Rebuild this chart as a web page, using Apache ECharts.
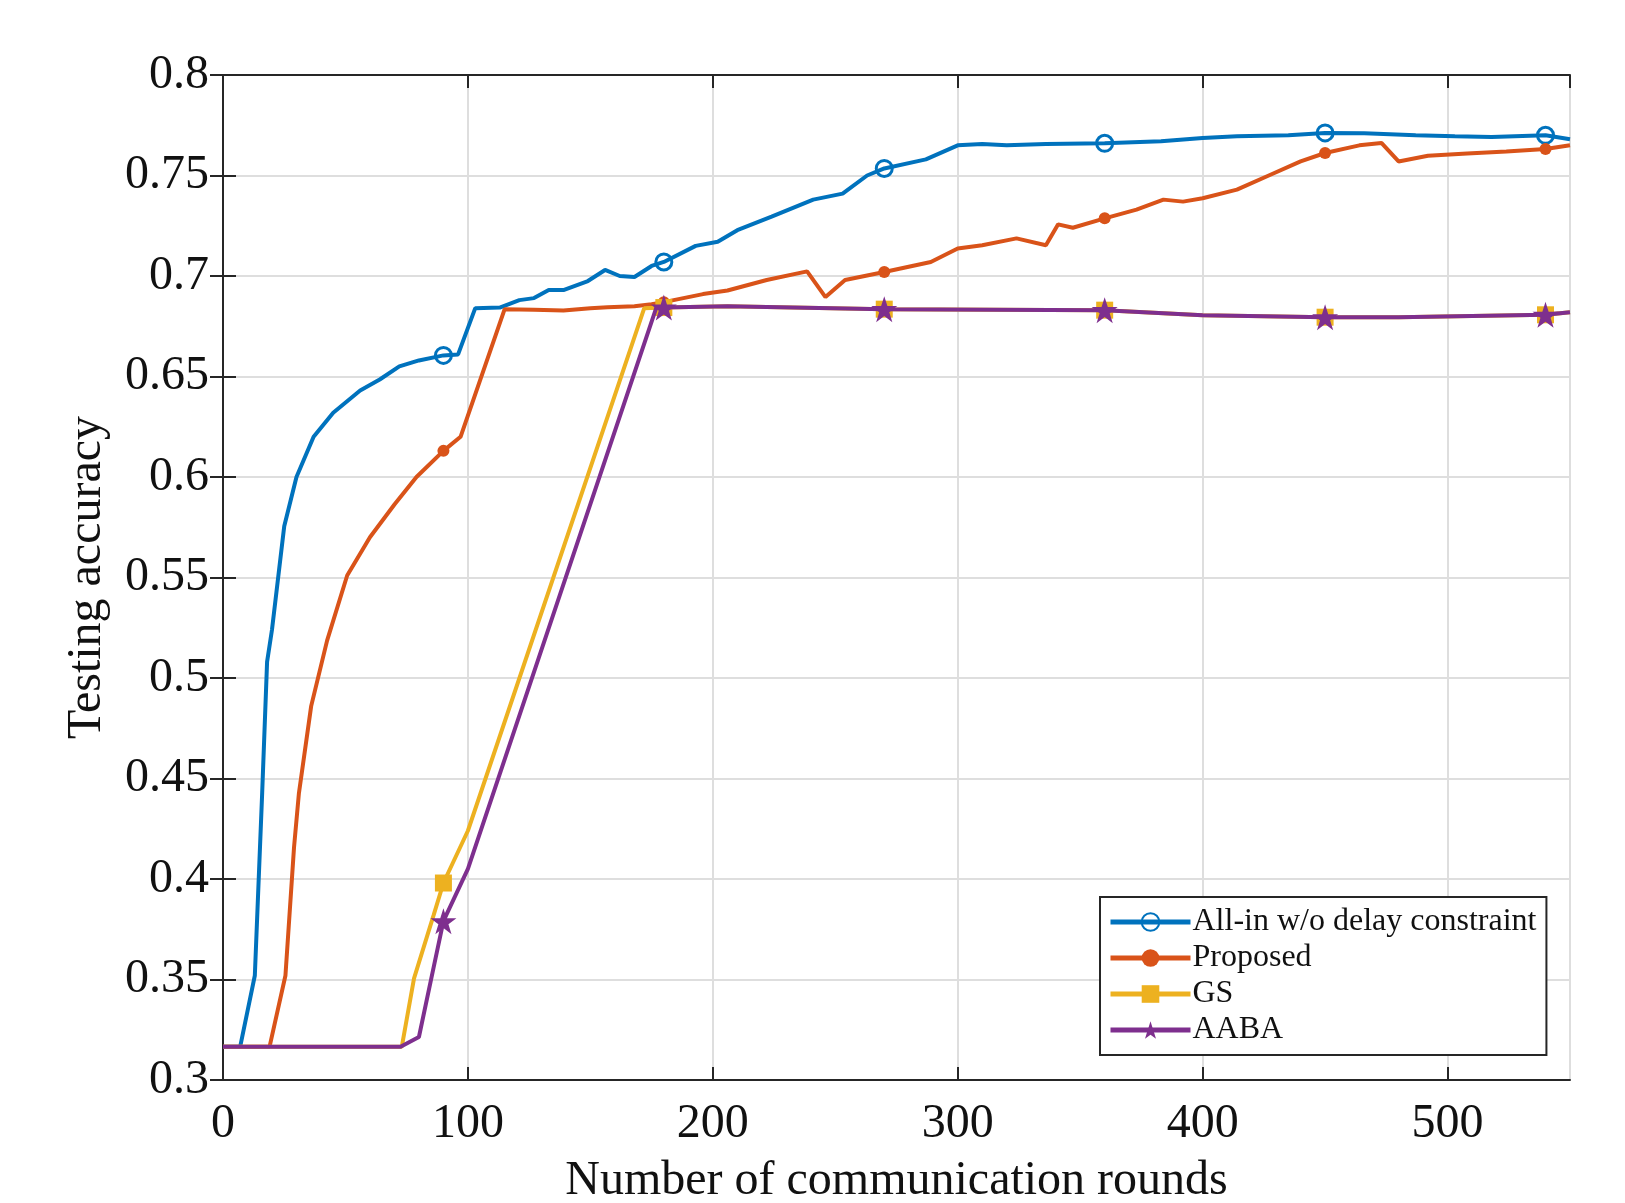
<!DOCTYPE html>
<html><head><meta charset="utf-8">
<script src="https://cdn.jsdelivr.net/npm/echarts@6/dist/echarts.min.js"></script>
<style>html,body{margin:0;padding:0;background:#fff}#c{width:1625px;height:1203px}</style>
</head><body><div id="c"></div>
<script>
const seriesNames = ['All-in w/o delay constraint', 'Proposed', 'GS', 'AABA'];
const markerX = [90, 180, 270, 360, 450, 540];
const allIn = [[0,0.3165],[7,0.3165],[13,0.352],[16,0.443],[18,0.508],[20,0.524],[25,0.5755],[30,0.600],[37,0.620],[45,0.632],[56,0.643],[64,0.6485],[72,0.655],[80,0.658],[90,0.6605],[96,0.661],[103,0.684],[113,0.6843],[121,0.688],[127,0.689],[133,0.693],[139,0.693],[149,0.6975],[156,0.703],[162,0.700],[168,0.6995],[175,0.705],[180,0.707],[193,0.715],[202,0.717],[210,0.7228],[224,0.7295],[241,0.738],[253,0.741],[263,0.750],[270,0.7535],[287,0.758],[300,0.765],[310,0.7657],[320,0.765],[336,0.7657],[360,0.766],[383,0.767],[400,0.7687],[414,0.7695],[435,0.770],[450,0.7712],[466,0.771],[487,0.770],[503,0.7695],[518,0.7692],[540,0.770],[550,0.768]];
const proposed = [[0,0.3165],[19,0.3165],[25.5,0.352],[29,0.4157],[31,0.4427],[36,0.486],[42.5,0.5186],[50.7,0.551],[60,0.570],[70,0.5863],[79,0.600],[90,0.613],[97,0.620],[115,0.6835],[127,0.6832],[139,0.6828],[150,0.684],[157,0.6845],[168,0.685],[175,0.686],[180,0.687],[196,0.691],[206,0.6928],[222,0.698],[238.5,0.7023],[246,0.6895],[254,0.698],[270,0.702],[289,0.707],[300,0.7137],[310,0.7153],[324,0.7187],[336,0.7153],[341,0.7257],[347,0.724],[360,0.7287],[373,0.733],[384,0.738],[392,0.737],[400,0.7387],[414,0.743],[427,0.750],[440,0.757],[450,0.7612],[464,0.765],[473,0.7662],[480,0.757],[492,0.7598],[508,0.761],[524,0.762],[540,0.7632],[550,0.765]];
const gs = [[0,0.3165],[73,0.3165],[78,0.3506],[86,0.382],[90,0.398],[100,0.424],[172,0.684],[180,0.6843],[206,0.685],[270,0.6835],[360,0.683],[400,0.6805],[450,0.6795],[480,0.6795],[540,0.6807],[550,0.682]];
const aaba = [[0,0.3165],[72.5,0.3165],[80,0.3214],[86,0.356],[90,0.379],[100,0.405],[177,0.6845],[180,0.6843],[206,0.685],[270,0.6835],[360,0.683],[400,0.6805],[450,0.6795],[480,0.6795],[540,0.6807],[550,0.682]];
const xTicks = [0, 100, 200, 300, 400, 500];

const colors = ['#0072BD', '#D95319', '#EDB120', '#7E2F8E'];
const starPath = 'path://M50,0 L61.8,35.5 L99,35.5 L69,57.5 L80.5,93 L50,71 L19.5,93 L31,57.5 L1,35.5 L38.2,35.5 Z';
const symbols = ['circle', 'circle', 'rect', starPath];
const symbolSizes = [16, 12, 17, 26];
const dataSets = [allIn, proposed, gs, aaba];

function buildData(arr) {
  return arr.map(p => markerX.indexOf(p[0]) >= 0 ? {value: p} : {value: p, symbol: 'none'});
}

const font = 'Liberation Serif';
const axisColor = '#262626';
const series = dataSets.map((d, i) => ({
  name: seriesNames[i],
  type: 'line',
  data: buildData(d),
  symbol: symbols[i],
  symbolSize: symbolSizes[i],
  showAllSymbol: true,
  lineStyle: {color: colors[i], width: 4},
  itemStyle: i === 0 ? {color: 'rgba(0,0,0,0)', borderColor: colors[i], borderWidth: 3} : {color: colors[i], borderWidth: 0},
  z: 2 + i,
  animation: false
}));

const chart = echarts.init(document.getElementById('c'));
chart.setOption({
  backgroundColor: '#fff',
  animation: false,
  grid: {left: 223, right: 55, top: 75, bottom: 123, containLabel: false, outerBoundsMode: 'none'},
  legend: {
    orient: 'vertical', left: 1100, top: 897,
    padding: [9, 10, 9, 8],
    itemWidth: 80, itemHeight: 22, itemGap: 4,
    borderColor: axisColor, borderWidth: 2, backgroundColor: '#fff',
    lineStyle: {width: 5},
    textStyle: {fontFamily: font, fontSize: 32, color: '#111', lineHeight: 32, padding: [0,0,0,-3]},
    data: seriesNames
  },
  xAxis: [{
    type: 'value', min: 0, max: 550, interval: 100,
    name: 'Number of communication rounds', nameLocation: 'middle', nameGap: 77,
    nameTextStyle: {fontFamily: font, fontSize: 48, color: '#111'},
    axisLine: {show: true, lineStyle: {color: axisColor, width: 2}},
    axisTick: {show: true, inside: true, length: 13, lineStyle: {color: axisColor, width: 2}},
    axisLabel: {fontFamily: font, fontSize: 48, color: '#111', margin: 20, showMaxLabel: false,
      formatter: v => xTicks.indexOf(v) >= 0 ? String(v) : ''},
    splitLine: {show: true, lineStyle: {color: '#dedede', width: 2}}
  }, {
    type: 'value', min: 0, max: 550, interval: 100, position: 'top',
    axisLine: {show: true, lineStyle: {color: axisColor, width: 2}},
    axisTick: {show: true, inside: true, length: 13, lineStyle: {color: axisColor, width: 2}},
    axisLabel: {show: false}, splitLine: {show: false}
  }],
  yAxis: [{
    type: 'value', min: 0.3, max: 0.8, interval: 0.05,
    name: 'Testing accuracy', nameLocation: 'middle', nameGap: 112, nameRotate: 90,
    nameTextStyle: {fontFamily: font, fontSize: 48, color: '#111'},
    axisLine: {show: true, lineStyle: {color: axisColor, width: 2}},
    axisTick: {show: true, inside: true, length: 13, lineStyle: {color: axisColor, width: 2}},
    axisLabel: {fontFamily: font, fontSize: 48, color: '#111', margin: 14,
      formatter: v => String(+v.toFixed(2))},
    splitLine: {show: true, lineStyle: {color: '#dedede', width: 2}}
  }, {
    type: 'value', min: 0.3, max: 0.8, interval: 0.05, position: 'right',
    axisLine: {show: true, lineStyle: {color: axisColor, width: 2}},
    axisTick: {show: true, inside: true, length: 13, lineStyle: {color: axisColor, width: 2}},
    axisLabel: {show: false}, splitLine: {show: false}
  }],
  series: series
});
</script></body></html>
